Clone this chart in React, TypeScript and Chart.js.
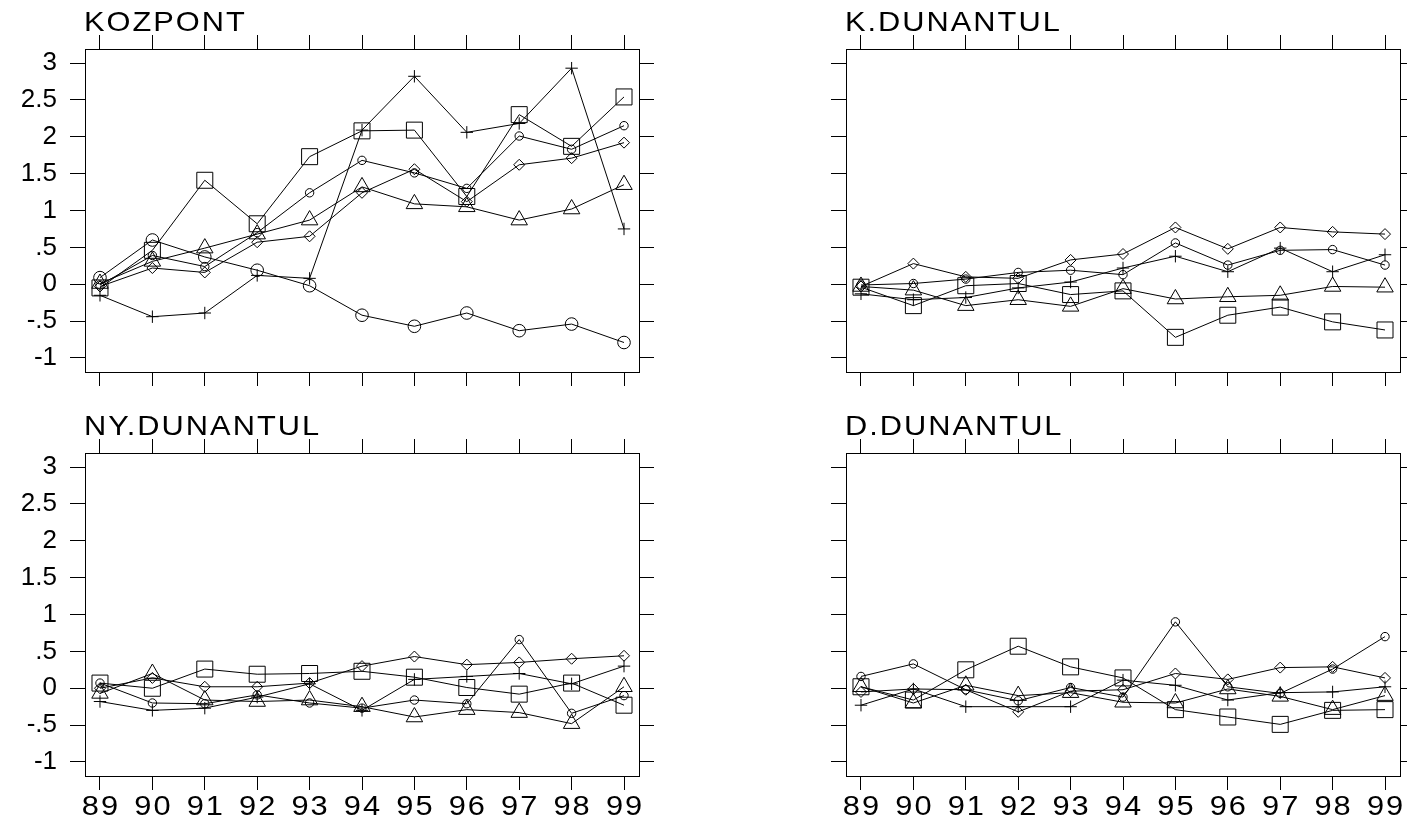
import React, { useEffect, useRef } from 'react';
import { Chart, registerables } from 'chart.js';

Chart.register(...registerables);

// Years on the horizontal axis and tick labels
const years = [89, 90, 91, 92, 93, 94, 95, 96, 97, 98, 99];
const xTickLabels = ['89', '90', '91', '92', '93', '94', '95', '96', '97', '98', '99'];
const yTickValues = [-1, -0.5, 0, 0.5, 1, 1.5, 2, 2.5, 3];
const yTickLabels = ['-1', '-.5', '0', '.5', '1', '1.5', '2', '2.5', '3'];

// KOZPONT
const kozpontBigCircle = [0.09, 0.6, 0.37, 0.19, -0.02, -0.42, -0.57, -0.39, -0.63, -0.54, -0.79];
const kozpontSmallCircle = [-0.01, 0.39, 0.24, 0.7, 1.24, 1.68, 1.51, 1.3, 2.01, 1.83, 2.15];
const kozpontPlus = [-0.15, -0.44, -0.39, 0.12, 0.08, 2.09, 2.82, 2.06, 2.18, 2.93, 0.75];
const kozpontSquare = [-0.05, 0.46, 1.41, 0.82, 1.73, 2.08, 2.09, 1.19, 2.3, 1.87, 2.54];
const kozpontDiamond = [-0.03, 0.22, 0.16, 0.57, 0.65, 1.24, 1.56, 1.12, 1.62, 1.71, 1.92];
const kozpontTriangle = [0.01, 0.31, 0.49, 0.68, 0.87, 1.32, 1.09, 1.05, 0.87, 1.02, 1.35];

// K.DUNANTUL
const kDunSmallCircle = [-0.01, 0.01, 0.07, 0.16, 0.19, 0.13, 0.56, 0.26, 0.46, 0.47, 0.26];
const kDunPlus = [-0.13, -0.21, -0.18, -0.05, 0.03, 0.22, 0.38, 0.17, 0.49, 0.17, 0.4];
const kDunSquare = [-0.04, -0.29, -0.02, 0.01, -0.14, -0.09, -0.72, -0.42, -0.31, -0.51, -0.62];
const kDunDiamond = [-0.03, 0.28, 0.1, 0.08, 0.33, 0.41, 0.77, 0.48, 0.77, 0.71, 0.68];
const kDunTriangle = [-0.03, -0.08, -0.29, -0.21, -0.3, -0.06, -0.2, -0.17, -0.15, -0.03, -0.04];

// NY.DUNANTUL
const nyDunSmallCircle = [0.07, -0.2, -0.21, -0.09, -0.2, -0.27, -0.16, -0.21, 0.66, -0.34, -0.1];
const nyDunPlus = [-0.18, -0.3, -0.27, -0.12, 0.06, -0.3, 0.12, 0.16, 0.2, 0.06, 0.3];
const nyDunSquare = [0.07, 0.0, 0.26, 0.19, 0.2, 0.23, 0.15, 0.01, -0.08, 0.07, -0.23];
const nyDunDiamond = [0.0, 0.14, 0.02, 0.02, 0.07, 0.3, 0.43, 0.32, 0.35, 0.4, 0.44];
const nyDunTriangle = [-0.07, 0.2, -0.16, -0.18, -0.16, -0.25, -0.39, -0.29, -0.33, -0.48, 0.02];

// D.DUNANTUL
const dDunSmallCircle = [0.16, 0.33, -0.02, -0.17, 0.01, -0.12, 0.9, 0.02, -0.07, 0.26, 0.7];
const dDunPlus = [-0.23, -0.01, -0.25, -0.25, -0.25, 0.11, 0.04, -0.16, -0.06, -0.05, 0.02];
const dDunSquare = [0.02, -0.16, 0.25, 0.57, 0.29, 0.14, -0.29, -0.39, -0.49, -0.3, -0.29];
const dDunDiamond = [-0.05, -0.01, -0.02, -0.32, -0.04, -0.02, 0.2, 0.12, 0.28, 0.29, 0.14];
const dDunTriangle = [0.02, -0.2, 0.04, -0.1, -0.06, -0.19, -0.2, -0.01, -0.11, -0.29, -0.1];

type MarkerKey = 'bigCircle' | 'smallCircle' | 'plus' | 'square' | 'diamond' | 'triangle';

const markers: Record<MarkerKey, { pointStyle: string; radius: number }> = {
  bigCircle: { pointStyle: 'circle', radius: 6.3 },
  smallCircle: { pointStyle: 'circle', radius: 4.2 },
  plus: { pointStyle: 'cross', radius: 6.2 },
  square: { pointStyle: 'rect', radius: 11.3 },
  diamond: { pointStyle: 'rectRot', radius: 5.5 },
  triangle: { pointStyle: 'triangle', radius: 9.5 },
};

interface PanelDef {
  title: string;
  left: number;
  top: number;
  yLabels: boolean;
  xLabels: boolean;
  series: { marker: MarkerKey; values: number[] }[];
}

const panels: PanelDef[] = [
  {
    title: 'KOZPONT', left: 0, top: 0, yLabels: true, xLabels: false,
    series: [
      { marker: 'bigCircle', values: kozpontBigCircle },
      { marker: 'smallCircle', values: kozpontSmallCircle },
      { marker: 'plus', values: kozpontPlus },
      { marker: 'square', values: kozpontSquare },
      { marker: 'diamond', values: kozpontDiamond },
      { marker: 'triangle', values: kozpontTriangle },
    ],
  },
  {
    title: 'K.DUNANTUL', left: 761, top: 0, yLabels: false, xLabels: false,
    series: [
      { marker: 'smallCircle', values: kDunSmallCircle },
      { marker: 'plus', values: kDunPlus },
      { marker: 'square', values: kDunSquare },
      { marker: 'diamond', values: kDunDiamond },
      { marker: 'triangle', values: kDunTriangle },
    ],
  },
  {
    title: 'NY.DUNANTUL', left: 0, top: 404, yLabels: true, xLabels: true,
    series: [
      { marker: 'smallCircle', values: nyDunSmallCircle },
      { marker: 'plus', values: nyDunPlus },
      { marker: 'square', values: nyDunSquare },
      { marker: 'diamond', values: nyDunDiamond },
      { marker: 'triangle', values: nyDunTriangle },
    ],
  },
  {
    title: 'D.DUNANTUL', left: 761, top: 404, yLabels: false, xLabels: true,
    series: [
      { marker: 'smallCircle', values: dDunSmallCircle },
      { marker: 'plus', values: dDunPlus },
      { marker: 'square', values: dDunSquare },
      { marker: 'diamond', values: dDunDiamond },
      { marker: 'triangle', values: dDunTriangle },
    ],
  },
];

// Panel geometry (frame plus margins around it)
const AXIS_LEFT = 85;
const AXIS_RIGHT = 20;
const PAD_TOP = 35;
const TICK_TOP = 14;
const AXIS_BOTTOM = 45;
const FRAME_W = 554;
const FRAME_H = 323;
const CANVAS_W = AXIS_LEFT + FRAME_W + AXIS_RIGHT;
const CANVAS_H = PAD_TOP + TICK_TOP + FRAME_H + AXIS_BOTTOM;

const X_MIN = 88.714;
const X_MAX = 99.286;
const Y_MIN = -1.19;
const Y_MAX = 3.19;

const FONT_FAMILY = '"Liberation Sans", Arial, Helvetica, sans-serif';
// Wide lettering for titles and year labels
const WIDE_FONT_SIZE = 28;
const TEXT_STRETCH = 1.1;
const TEXT_SPACING = 2;

function drawWideText(ctx: any, text: string, x: number, y: number, align: 'left' | 'center') {
  ctx.save();
  ctx.translate(x, y);
  ctx.scale(TEXT_STRETCH, 1);
  const sp = TEXT_SPACING / TEXT_STRETCH;
  ctx.letterSpacing = `${sp}px`;
  ctx.textAlign = align;
  ctx.textBaseline = 'alphabetic';
  ctx.fillText(text, align === 'center' ? sp / 2 : 0, 0);
  ctx.restore();
}

// Title above each frame and the year labels under the bottom row
const panelText = {
  id: 'panelText',
  afterDraw(chart: any, _args: any, opts: any) {
    const { ctx, chartArea } = chart;
    ctx.save();
    ctx.fillStyle = '#000';
    ctx.font = `${WIDE_FONT_SIZE}px ${FONT_FAMILY}`;
    drawWideText(ctx, opts.title, chartArea.left - 1, chartArea.top - 18.5, 'left');
    if (opts.xLabels) {
      const sx = chart.scales.x;
      sx.ticks.forEach((t: any, i: number) => {
        drawWideText(ctx, xTickLabels[i], sx.getPixelForValue(t.value), chartArea.bottom + 38.5, 'center');
      });
    }
    ctx.restore();
  },
};

function frameScale(position: string, axis: 'x' | 'y', size: number, tickLength: number) {
  const isX = axis === 'x';
  return {
    type: 'linear',
    axis,
    position,
    min: isX ? X_MIN : Y_MIN,
    max: isX ? X_MAX : Y_MAX,
    afterBuildTicks: (scale: any) => {
      scale.ticks = (isX ? years : yTickValues).map((v) => ({ value: v }));
    },
    afterFit: (scale: any) => {
      if (isX) scale.height = size;
      else scale.width = size;
    },
    grid: {
      drawOnChartArea: false,
      drawTicks: true,
      tickLength,
      color: '#000',
      lineWidth: 1,
    },
    border: { display: true, color: '#000', width: 1 },
    ticks: { display: false, autoSkip: false, maxRotation: 0 },
  };
}

function Panel({ panel }: { panel: PanelDef }) {
  const ref = useRef<HTMLCanvasElement>(null);

  useEffect(() => {
    const canvas = ref.current;
    if (!canvas) return;
    const datasets = panel.series.map((s) => ({
      data: years.map((yr, i) => ({ x: yr, y: s.values[i] })),
      borderColor: '#000',
      borderWidth: 1,
      tension: 0,
      fill: false,
      pointStyle: markers[s.marker].pointStyle,
      pointRadius: markers[s.marker].radius,
      pointBorderColor: '#000',
      pointBackgroundColor: 'rgba(0,0,0,0)',
      pointBorderWidth: 1,
    }));

    const yScale: any = frameScale('left', 'y', AXIS_LEFT, 15);
    yScale.ticks = {
      display: panel.yLabels,
      autoSkip: false,
      color: '#000',
      padding: 13,
      font: { family: FONT_FAMILY, size: 26 },
      callback: (v: number) => {
        const idx = yTickValues.indexOf(v);
        return idx >= 0 ? yTickLabels[idx] : '';
      },
    };

    const chart = new Chart(canvas, {
      type: 'line',
      data: { datasets } as any,
      options: {
        animation: false,
        responsive: false,
        devicePixelRatio: 1,
        events: [],
        layout: { padding: { top: PAD_TOP, left: 0, right: 0, bottom: 0 } },
        plugins: {
          legend: { display: false },
          tooltip: { enabled: false },
          panelText: { title: panel.title, xLabels: panel.xLabels },
        } as any,
        scales: {
          x: frameScale('bottom', 'x', AXIS_BOTTOM, 14),
          xTop: frameScale('top', 'x', TICK_TOP, 14),
          y: yScale,
          yRight: frameScale('right', 'y', AXIS_RIGHT, 15),
        } as any,
      },
      plugins: [panelText],
    });
    return () => chart.destroy();
  }, [panel]);

  return (
    <canvas
      ref={ref}
      width={CANVAS_W}
      height={CANVAS_H}
      style={{ position: 'absolute', left: panel.left, top: panel.top, width: CANVAS_W, height: CANVAS_H }}
    />
  );
}

export default function App() {
  return (
    <div
      style={{
        position: 'absolute',
        left: 0,
        top: 0,
        width: 1407,
        height: 821,
        overflow: 'hidden',
        background: '#fff',
      }}
    >
      {panels.map((p) => (
        <Panel key={p.title} panel={p} />
      ))}
    </div>
  );
}
